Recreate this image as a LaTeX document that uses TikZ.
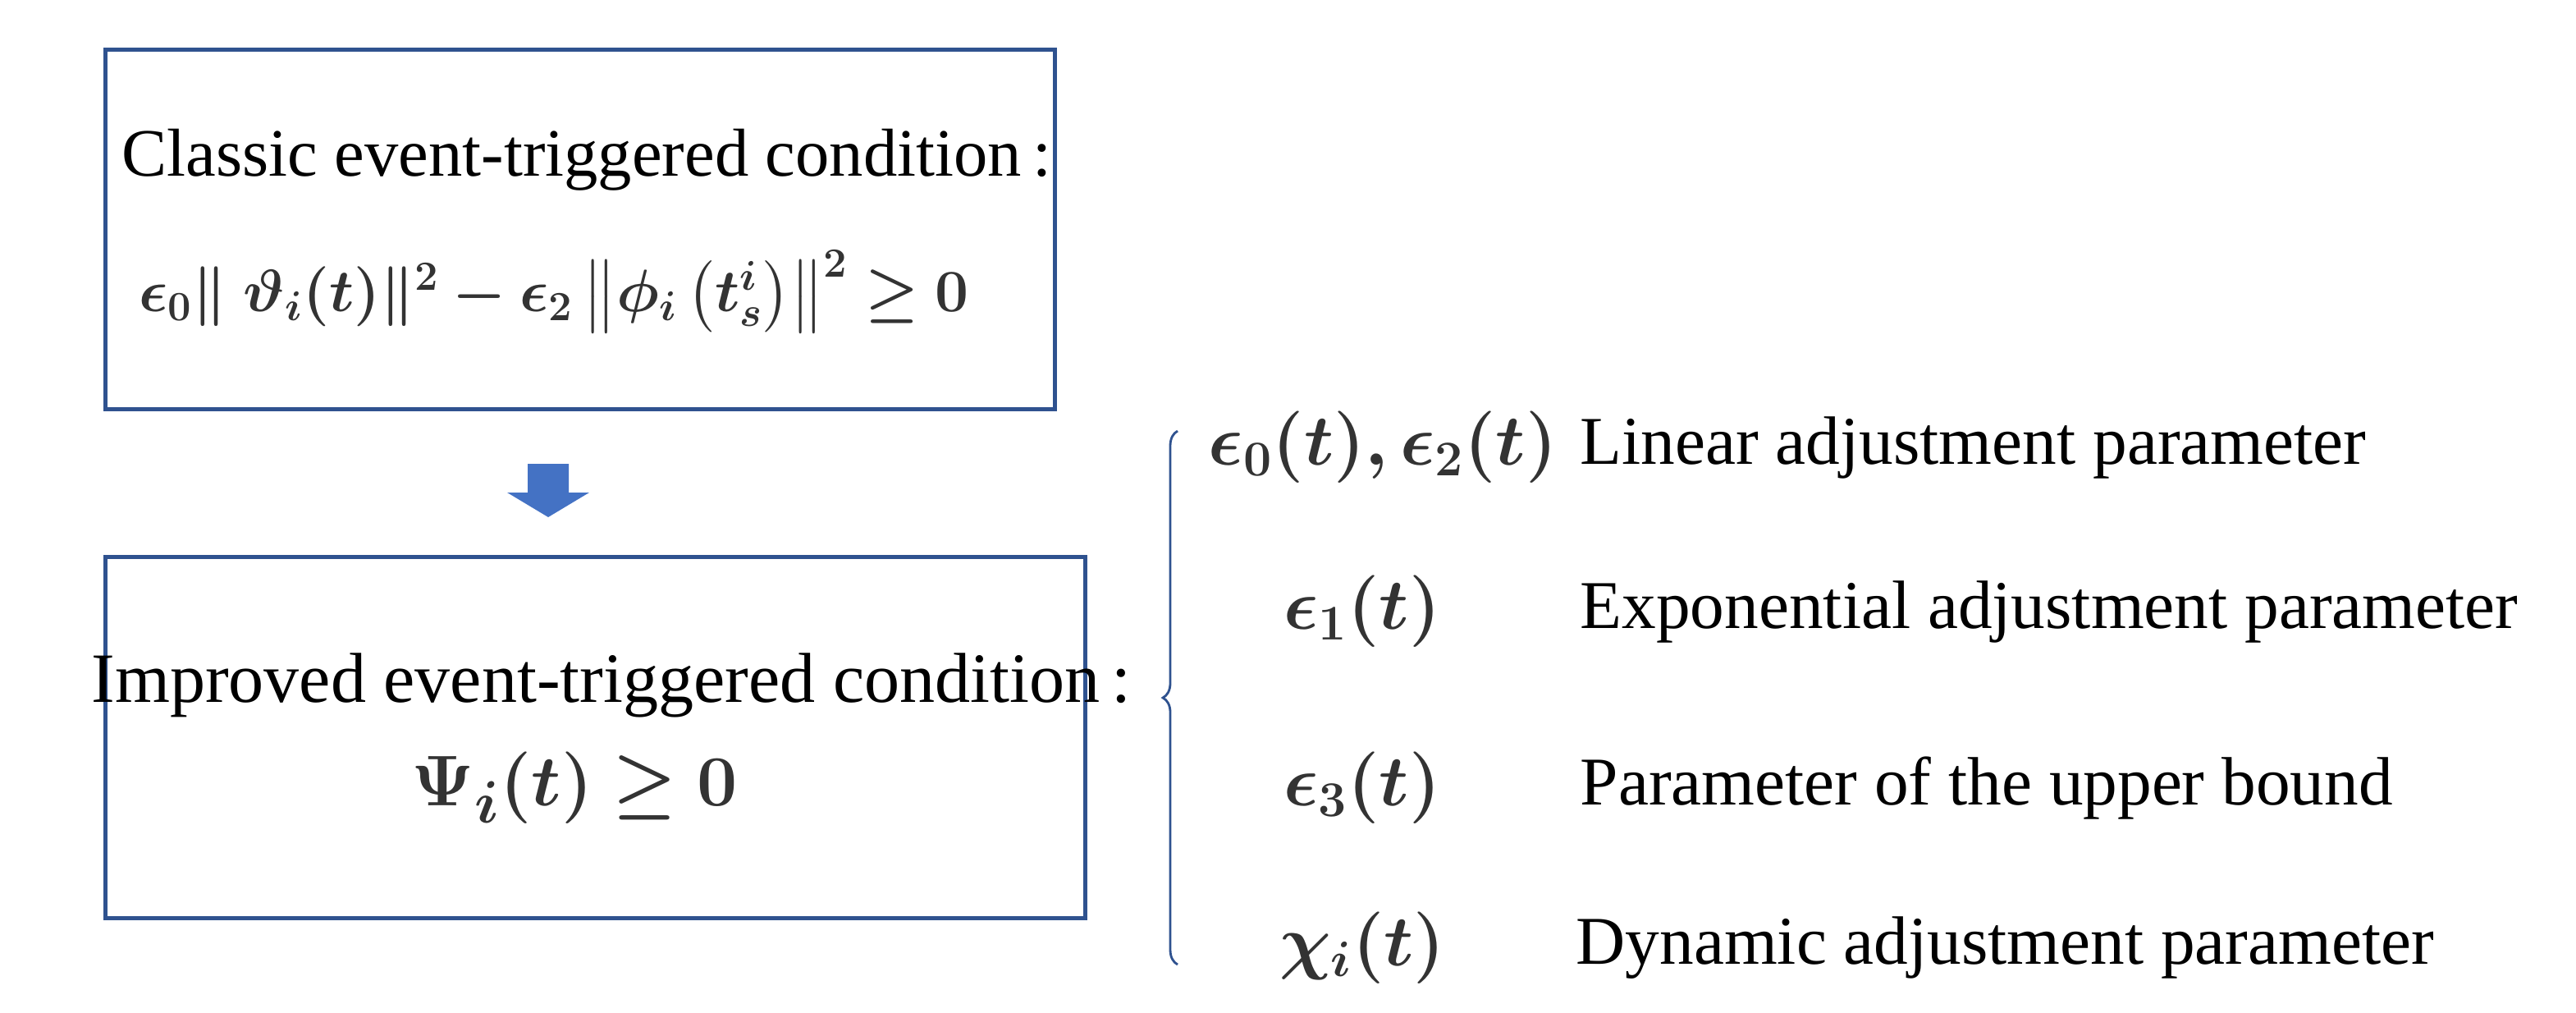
\documentclass[tikz,border=0pt]{standalone}
\usepackage{amsmath,bm}
\usepackage{fontspec}
\setmainfont{Liberation Serif}
\usetikzlibrary{decorations.pathreplacing}
\definecolor{bx}{HTML}{2F528F}
\definecolor{ar}{HTML}{4472C4}
\definecolor{mt}{HTML}{333333}
\tikzset{
 boxx/.style={draw=bx,line width=1.5pt},
 txt/.style={font=\fontsize{23.5}{28}\selectfont,inner sep=0pt},
 mth/.style={font=\fontsize{22}{26}\selectfont,text=mt,inner sep=0pt},
 lab/.style={font=\fontsize{23.7}{28}\selectfont,anchor=west,inner sep=0pt},
 sym/.style={font=\fontsize{24}{28}\selectfont,text=mt,inner sep=0pt}
}
\begin{document}
\begin{tikzpicture}
\useasboundingbox (0,0) rectangle (31.39,-12.33);
\node[boxx,minimum width=11.57cm,minimum height=4.38cm,anchor=north west] (b1) at (1.26,-0.58) {};
\node[txt] (t1) at (7.15,-1.95) {Classic event-triggered condition\,:};
\node[mth] (m1) at (6.75,-3.55) {$\bm{\epsilon_0\|\;\vartheta_i(t)\|^2-\epsilon_2\left\|\phi_i\left(t_s^i\right)\right\|^2\geq 0}$};
\node[boxx,minimum width=11.94cm,minimum height=4.40cm,anchor=north west] (b2) at (1.26,-6.76) {};
\node[txt,font=\fontsize{24.5}{28}\selectfont] (t2) at (7.45,-8.35) {Improved event-triggered condition\,:};
\node[mth,font=\fontsize{28}{32}\selectfont] (m2) at (7.0,-9.6) {$\bm{\Psi_i(t)\geq 0}$};
\fill[ar] (6.43,-5.65) -- (6.93,-5.65) -- (6.93,-6.0) -- (7.18,-6.0) -- (6.68,-6.3) -- (6.18,-6.0) -- (6.43,-6.0) -- cycle;
\coordinate (bt) at (14.35,-5.25);
\coordinate (bb) at (14.35,-11.75);
\draw[bx,line width=0.8pt,decorate,decoration={brace,amplitude=0.18cm}] (bb) -- (bt);
\node[sym] (s1) at (16.85,-5.45) {$\bm{\epsilon_0(t),\epsilon_2(t)}$};
\node[lab] (l1) at (19.25,-5.45) {Linear adjustment parameter};
\node[sym] (s2) at (16.6,-7.45) {$\bm{\epsilon_1(t)}$};
\node[lab] (l2) at (19.25,-7.45) {Exponential adjustment parameter};
\node[sym] (s3) at (16.6,-9.6) {$\bm{\epsilon_3(t)}$};
\node[lab] (l3) at (19.25,-9.6) {Parameter of the upper bound};
\node[sym] (s4) at (16.6,-11.55) {$\bm{\chi_i(t)}$};
\node[lab] (l4) at (19.2,-11.55) {Dynamic adjustment parameter};
\end{tikzpicture}
\end{document}
